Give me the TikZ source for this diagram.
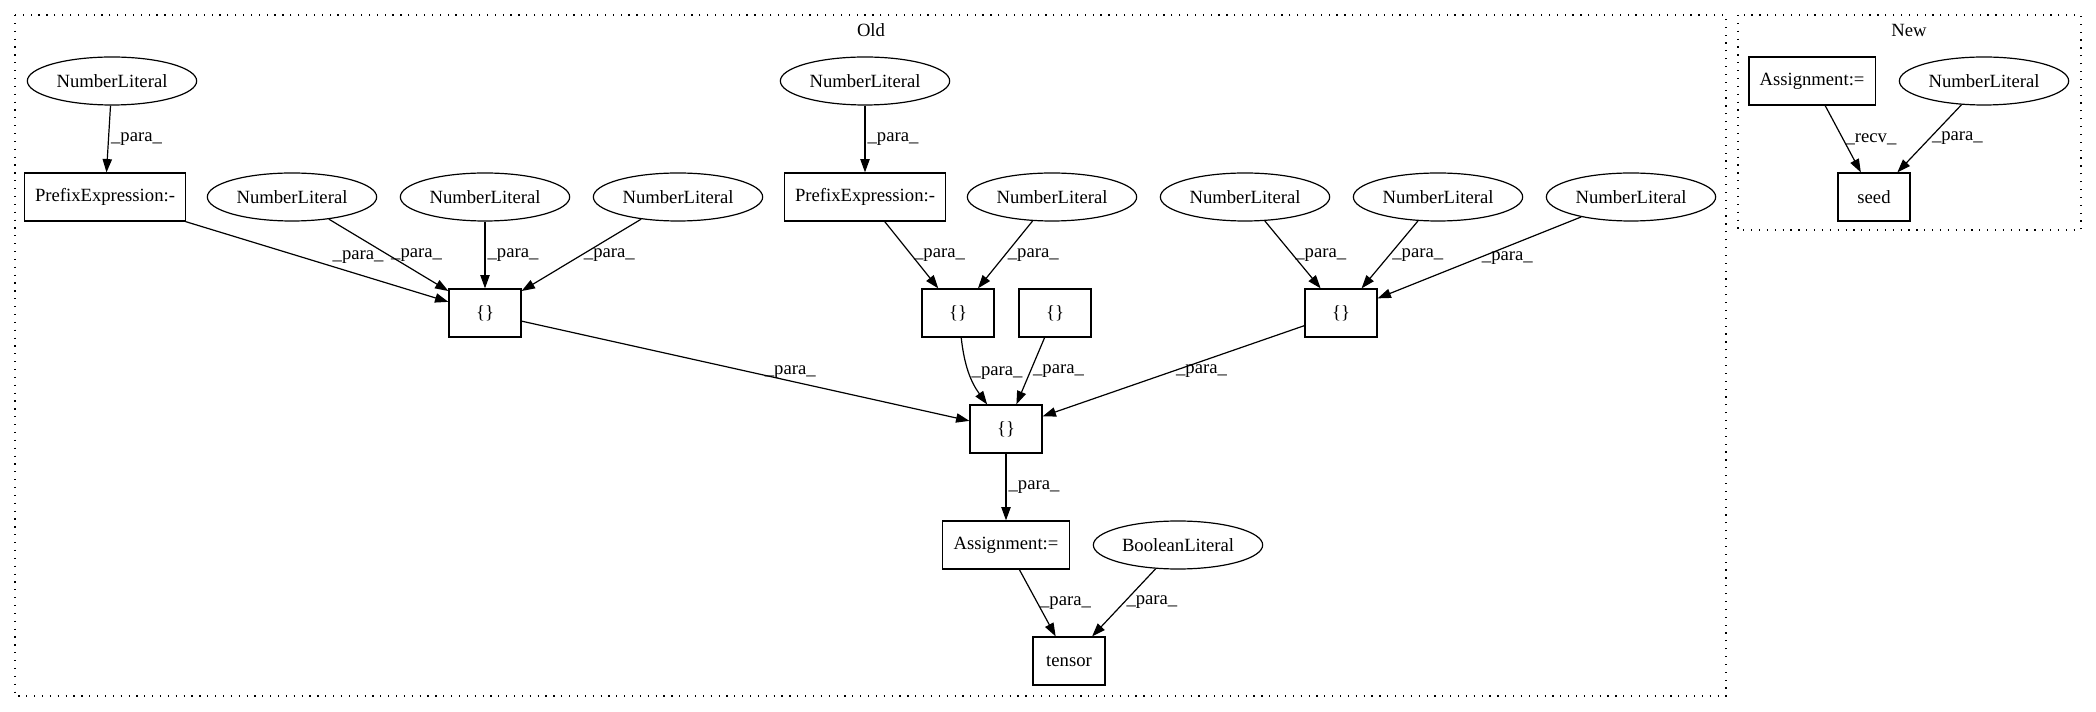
\documentclass[tikz,border=0pt]{standalone}
\usepackage{fontspec}
\setmainfont{Liberation Serif}
\usepackage{tikz}
\usetikzlibrary{arrows.meta,positioning,shapes.geometric}
\tikzset{
    lit/.style={
    ellipse,draw=black,line width=0.9pt,minimum width=127pt,minimum height=36pt,inner sep=0pt,font=\fontsize{14}{17}\selectfont
    },
    op/.style={
    rectangle,draw=black,line width=0.9pt,minimum width=54pt,minimum height=36pt,inner xsep=8pt,font=\fontsize{14}{17}\selectfont
    },
    prefbox/.style={op},
    title/.style={inner sep=0pt,font=\fontsize{14}{17}\selectfont},
    cluster/.style={draw=black,line width=0.9pt,dash pattern=on 0.9pt off 5pt},
  line/.style={draw, line width=0.9pt, -{Triangle[length=10pt,width=7pt]}},
  lab/.style={midway,right,inner sep=1.5pt,font=\fontsize{14}{17}\selectfont}
}
\begin{document}
\begin{tikzpicture}[x=0.75pt,y=-0.75pt]
    \useasboundingbox (0,0) rectangle (2096,712);

    % the two clusters
    \draw[cluster] (15,15) rectangle (1726,696);
    \draw[cluster] (1738,15) rectangle (2081,230);
    \node[title] (old) at (871,30) {Old};
    \node[title] (new) at (1909,30) {New};

    \node[lit] (numA) at (112,81) {NumberLiteral};
    \node[lit] (numB) at (865,81) {NumberLiteral};

    \node[prefbox] (prefL) at (105,197) {PrefixExpression:-};
    \node[lit,right of=prefL,node distance=140.25pt] (numL1) {NumberLiteral};
    \node[lit,right of=numL1,node distance=144.75pt] (numL2) {NumberLiteral};
    \node[lit,right of=numL2,node distance=144.75pt] (numL3) {NumberLiteral};
    \node[prefbox,right of=numL3,node distance=140.25pt] (prefM) {PrefixExpression:-};
    \node[lit,right of=prefM,node distance=140.25pt] (numM) {NumberLiteral};
    \node[lit,right of=numM,node distance=144.75pt] (numR1) {NumberLiteral};
    \node[lit,right of=numR1,node distance=144.75pt] (numR2) {NumberLiteral};
    \node[lit,right of=numR2,node distance=144.75pt] (numR3) {NumberLiteral};

    \node[op] (arrL) at (485,313) {\{\}};
    \node[op] (arrM) at (958,313) {\{\}};
    \node[op] (arrE) at (1055,313) {\{\}};
    \node[op] (arrR) at (1341,313) {\{\}};
    \node[op] (arrC) at (1006,429) {\{\}};

    \node[op] (asg) at (1006,545) {Assignment:=};
    \node[lit,right of=asg,node distance=129pt] (bool) {BooleanLiteral};
    \node[op] (tensor) at (1069,661) {tensor};

    % new side
    \node[op] (asgN) at (1812,81) {Assignment:=};
    \node[lit,right of=asgN,node distance=129pt] (numN) {NumberLiteral};
    \node[op] (seed) at (1874,197) {seed};

    \begin{scope}[every path/.style=line]
      \path (numA) -- node[lab] {\_para\_} (prefL);
      \path (numB) -- node[lab] {\_para\_} (prefM);

      \path (prefL) -- node[lab,above right,pos=0.55] {\_para\_} (arrL);
      \path (numL1) -- node[lab] {\_para\_} (arrL);
      \path (numL2) -- node[lab] {\_para\_} (arrL);
      \path (numL3) -- node[lab] {\_para\_} (arrL);

      \path (prefM) -- node[lab] {\_para\_} (arrM);
      \path (numM) -- node[lab] {\_para\_} (arrM);

      \path (numR1) -- node[lab] {\_para\_} (arrR);
      \path (numR2) -- node[lab] {\_para\_} (arrR);
      \path (numR3) -- node[lab] {\_para\_} (arrR);

      \path (arrL) -- node[lab,above,pos=0.6] {\_para\_} (arrC);
      \path (arrM) to[bend right=15] node[lab] {\_para\_} (arrC);
      \path (arrE) -- node[lab] {\_para\_} (arrC);
      \path (arrR) -- node[lab] {\_para\_} (arrC);

      \path (arrC) -- node[lab] {\_para\_} (asg);
      \path (asg) -- node[lab] {\_para\_} (tensor);
      \path (bool) -- node[lab] {\_para\_} (tensor);

      \path (asgN) -- node[lab] {\_recv\_} (seed);
      \path (numN) -- node[lab] {\_para\_} (seed);
    \end{scope}
\end{tikzpicture}
\end{document}
